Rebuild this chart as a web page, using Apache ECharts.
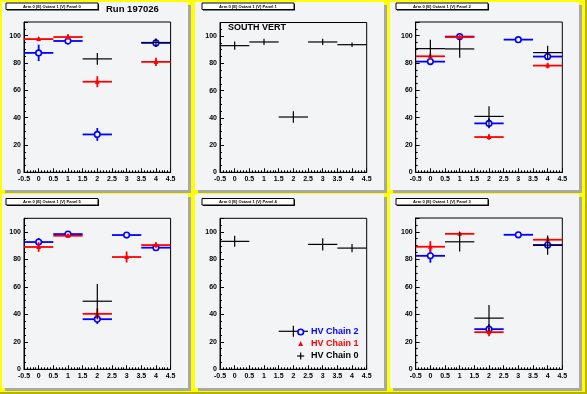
<!DOCTYPE html>
<html><head><meta charset="utf-8">
<script src="https://cdn.jsdelivr.net/npm/echarts@6/dist/echarts.min.js"></script>
<style>html,body{margin:0;padding:0;background:#ffff00}#c{width:587px;height:394px}</style>
</head><body><div id="c"></div>
<script>
// ---------- data ----------
const xBins = [0, 1, 2, 3, 4];
const panelTitles = [
  'Arm 0 (E) Octant 1 (V) Panel 0', 'Arm 0 (E) Octant 1 (V) Panel 1', 'Arm 0 (E) Octant 1 (V) Panel 2',
  'Arm 0 (E) Octant 1 (V) Panel 5', 'Arm 0 (E) Octant 1 (V) Panel 4', 'Arm 0 (E) Octant 1 (V) Panel 3'
];
const seriesNames = ['HV Chain 0', 'HV Chain 1', 'HV Chain 2'];
const runLabel = 'Run 197026';
const sideLabel = 'SOUTH VERT';
const yTickMax = 100;

// Panel 0 (top-left)
const p0c0 = [null, null, 83.0, null, 95.0];   const p0e0 = [0, 0, 4.3, 0, 3.0];
const p0c1 = [97.5, 99.0, 66.3, null, 80.8];   const p0e1 = [1.5, 2.0, 4.0, 0, 3.0];
const p0c2 = [87.4, 96.1, 27.7, null, 94.7];   const p0e2 = [6.0, 2.5, 4.7, 0, 3.0];
// Panel 1 (top-middle)
const p1c0 = [93.0, 95.7, 40.6, 95.7, 93.7];   const p1e0 = [3.0, 2.3, 4.3, 2.3, 1.7];
const p1c1 = [null, null, null, null, null];   const p1e1 = [0, 0, 0, 0, 0];
const p1c2 = [null, null, null, null, null];   const p1e2 = [0, 0, 0, 0, 0];
// Panel 2 (top-right)
const p2c0 = [90.5, 90.3, 40.9, null, 87.6];   const p2e0 = [6.5, 6.5, 7.5, 0, 5.0];
const p2c1 = [84.9, 99.0, 25.8, null, 78.1];   const p2e1 = [2.0, 1.0, 2.0, 0, 2.0];
const p2c2 = [81.0, 99.3, 35.8, 97.1, 84.7];   const p2e2 = [2.5, 1.0, 3.5, 1.0, 2.5];
// Panel 5 (bottom-left)
const p5c0 = [null, null, 49.6, null, null];   const p5e0 = [0, 0, 12.5, 0, 0];
const p5c1 = [89.1, 97.3, 40.4, 81.8, 90.5];   const p5e1 = [3.5, 1.0, 4.0, 4.0, 2.0];
const p5c2 = [92.7, 98.5, 36.5, 97.8, 88.6];   const p5e2 = [3.0, 1.0, 3.5, 1.0, 2.0];
// Panel 4 (bottom-middle)
const p4c0 = [93.2, null, 27.7, 91.0, 88.3];   const p4e0 = [4.0, 0, 4.0, 4.5, 3.0];
const p4c1 = [null, null, null, null, null];   const p4e1 = [0, 0, 0, 0, 0];
const p4c2 = [null, null, null, null, null];   const p4e2 = [0, 0, 0, 0, 0];
// Panel 3 (bottom-right)
const p3c0 = [null, 92.7, 37.2, null, 90.3];   const p3e0 = [0, 7.0, 9.5, 0, 7.0];
const p3c1 = [89.1, 98.5, 27.0, null, 94.2];   const p3e1 = [4.0, 1.0, 3.0, 0, 2.0];
const p3c2 = [82.5, null, 29.2, 97.8, 90.3];   const p3e2 = [5.0, 0, 3.5, 1.5, 2.0];

// layout order: top row P0 P1 P2, bottom row P5 P4 P3
const panelData = [
  [[p0c0, p0e0], [p0c1, p0e1], [p0c2, p0e2]],
  [[p1c0, p1e0], [p1c1, p1e1], [p1c2, p1e2]],
  [[p2c0, p2e0], [p2c1, p2e1], [p2c2, p2e2]],
  [[p5c0, p5e0], [p5c1, p5e1], [p5c2, p5e2]],
  [[p4c0, p4e0], [p4c1, p4e1], [p4c2, p4e2]],
  [[p3c0, p3e0], [p3c1, p3e1], [p3c2, p3e2]]
];

// ---------- styling / layout ----------
const PAD_BG = '#f2f4f5';
const SHADOW = '#a8a8a8';
const FONT = 'Liberation Sans, Arial, sans-serif';
const chainColors = ['#000000', '#ff0000', '#0000ff'];
const gridRects = [
  [24, 22, 146.6, 150.3], [220, 22.5, 146.7, 149.8], [415.7, 22, 146.6, 150.3],
  [24, 218.3, 146.6, 151], [220, 218.3, 146.7, 151], [415.7, 218, 146.6, 151.3]
];
const padRects = [
  [2, 2, 186, 188], [195, 2, 189, 188], [390, 2, 189, 188],
  [2, 194, 186, 194], [195, 194, 189, 194], [390, 194, 189, 194]
];
const titleBoxes = [
  [6, 3], [202, 3], [396, 3], [6, 198.5], [202, 198.5], [396, 198.5]
];

function makeRender(kind) {
  const color = chainColors[kind];
  return function (params, api) {
    const x = api.value(0), y = api.value(1), e = api.value(2);
    const L = api.coord([x - 0.5, y]);
    const R = api.coord([x + 0.5, y]);
    const T = api.coord([x, y + e]);
    const B = api.coord([x, y - e]);
    const C = api.coord([x, y]);
    const lw = kind === 0 ? 1.2 : 1.8;
    const children = [
      { type: 'line', shape: { x1: L[0], y1: L[1], x2: R[0], y2: R[1] }, style: { stroke: color, lineWidth: lw } },
      { type: 'line', shape: { x1: T[0], y1: T[1], x2: B[0], y2: B[1] }, style: { stroke: color, lineWidth: lw } }
    ];
    if (kind === 2) children.push({ type: 'circle', shape: { cx: C[0], cy: C[1], r: 2.8 }, style: { fill: PAD_BG, stroke: color, lineWidth: 1.6 } });
    if (kind === 1) children.push({ type: 'polygon', shape: { points: [[C[0], C[1] - 3], [C[0] - 2.4, C[1] + 2], [C[0] + 2.4, C[1] + 2]] }, style: { fill: color } });
    return { type: 'group', children };
  };
}

const grids = [], xAxes = [], yAxes = [], series = [], graphics = [];
const axisLabelStyle = { fontSize: 7, fontWeight: 'bold', color: '#000', fontFamily: FONT };

padRects.forEach(function (r) {
  graphics.push({ type: 'rect', z: -2, shape: { x: r[0] + 3, y: r[1] + 3, width: r[2], height: r[3] }, style: { fill: SHADOW } });
  graphics.push({ type: 'rect', z: -1, shape: { x: r[0], y: r[1], width: r[2], height: r[3] }, style: { fill: PAD_BG } });
});
// canvas bevel
graphics.push({ type: 'rect', z: -3, shape: { x: 585, y: 0, width: 2, height: 394 }, style: { fill: '#b4b400' } });
graphics.push({ type: 'rect', z: -3, shape: { x: 0, y: 392, width: 587, height: 2 }, style: { fill: '#b4b400' } });

for (let i = 0; i < 6; i++) {
  const g = gridRects[i];
  grids.push({ left: g[0], top: g[1], width: g[2], height: g[3], show: true, backgroundColor: PAD_BG, borderColor: '#000', borderWidth: 1, containLabel: false });
  xAxes.push({
    gridIndex: i, type: 'value', min: -0.5, max: 4.5, interval: 0.5,
    axisLine: { show: true, onZero: false, lineStyle: { color: '#000', width: 1 } },
    axisTick: { show: true, inside: true, length: 4, lineStyle: { color: '#000' } },
    minorTick: { show: true, splitNumber: 5, length: 2, lineStyle: { color: '#000' } },
    splitLine: { show: false },
    axisLabel: Object.assign({ margin: 3, showMinLabel: true, showMaxLabel: true, formatter: function (v) { return String(Math.round(v * 10) / 10); } }, axisLabelStyle)
  });
  yAxes.push({
    gridIndex: i, type: 'value', min: 0, max: 110, interval: 20,
    axisLine: { show: true, onZero: false, lineStyle: { color: '#000', width: 1 } },
    axisTick: { show: true, inside: true, length: 4, lineStyle: { color: '#000' } },
    minorTick: { show: true, splitNumber: 4, length: 2, lineStyle: { color: '#000' } },
    splitLine: { show: false },
    axisLabel: Object.assign({ margin: 3, showMaxLabel: false, formatter: function (v) { return v > yTickMax ? '' : String(v); } }, axisLabelStyle)
  });
  // draw order: chain 2, chain 1, chain 0
  [2, 1, 0].forEach(function (k) {
    const vals = panelData[i][k][0], errs = panelData[i][k][1];
    const data = [];
    xBins.forEach(function (x, j) { if (vals[j] !== null) data.push([x, vals[j], errs[j]]); });
    series.push({
      type: 'custom', name: seriesNames[k], xAxisIndex: i, yAxisIndex: i,
      renderItem: makeRender(k), data: data, clip: false, silent: true,
      encode: { x: 0, y: 1 }, z: 3 + (2 - k)
    });
  });
  // title box
  const tb = titleBoxes[i];
  graphics.push({ type: 'rect', z: 50, shape: { x: tb[0] + 1, y: tb[1] + 1, width: 92, height: 6.5 }, style: { fill: '#000' } });
  graphics.push({ type: 'rect', z: 51, shape: { x: tb[0], y: tb[1], width: 92, height: 6.5 }, style: { fill: '#ffffff', stroke: '#000', lineWidth: 1 } });
  graphics.push({ type: 'text', z: 52, style: { x: tb[0] + 46, y: tb[1] + 3.4, text: panelTitles[i], fill: '#000', font: 'bold 4.1px ' + FONT, textAlign: 'center', textVerticalAlign: 'middle' } });
}

graphics.push({ type: 'text', z: 60, style: { x: 106, y: 9.5, text: runLabel, fill: '#000', font: 'bold 9.5px ' + FONT, textAlign: 'left', textVerticalAlign: 'middle' } });
graphics.push({ type: 'text', z: 60, style: { x: 228, y: 28, text: sideLabel, fill: '#000', font: 'bold 9px ' + FONT, textAlign: 'left', textVerticalAlign: 'middle' } });

// legend (pad 4, bottom-middle)
const legX = 300.7, legYs = [356, 344, 332];
// chain 2
graphics.push({ type: 'circle', z: 60, shape: { cx: legX, cy: legYs[2], r: 2.8 }, style: { fill: PAD_BG, stroke: chainColors[2], lineWidth: 1.6 } });
graphics.push({ type: 'polygon', z: 60, shape: { points: [[legX, legYs[1] - 3], [legX - 2.4, legYs[1] + 2], [legX + 2.4, legYs[1] + 2]] }, style: { fill: chainColors[1] } });
graphics.push({ type: 'line', z: 60, shape: { x1: legX - 3.5, y1: legYs[0], x2: legX + 3.5, y2: legYs[0] }, style: { stroke: '#000', lineWidth: 1.2 } });
graphics.push({ type: 'line', z: 60, shape: { x1: legX, y1: legYs[0] - 3.5, x2: legX, y2: legYs[0] + 3.5 }, style: { stroke: '#000', lineWidth: 1.2 } });
[2, 1, 0].forEach(function (k) {
  graphics.push({ type: 'text', z: 60, style: { x: 311, y: legYs[k], text: seriesNames[k], fill: chainColors[k], font: 'bold 9px ' + FONT, textAlign: 'left', textVerticalAlign: 'middle' } });
});

const chart = echarts.init(document.getElementById('c'), null, { renderer: 'canvas' });
chart.setOption({
  backgroundColor: '#ffff00',
  animation: false,
  grid: grids, xAxis: xAxes, yAxis: yAxes, series: series,
  graphic: { elements: graphics }
});
</script>
</body></html>
